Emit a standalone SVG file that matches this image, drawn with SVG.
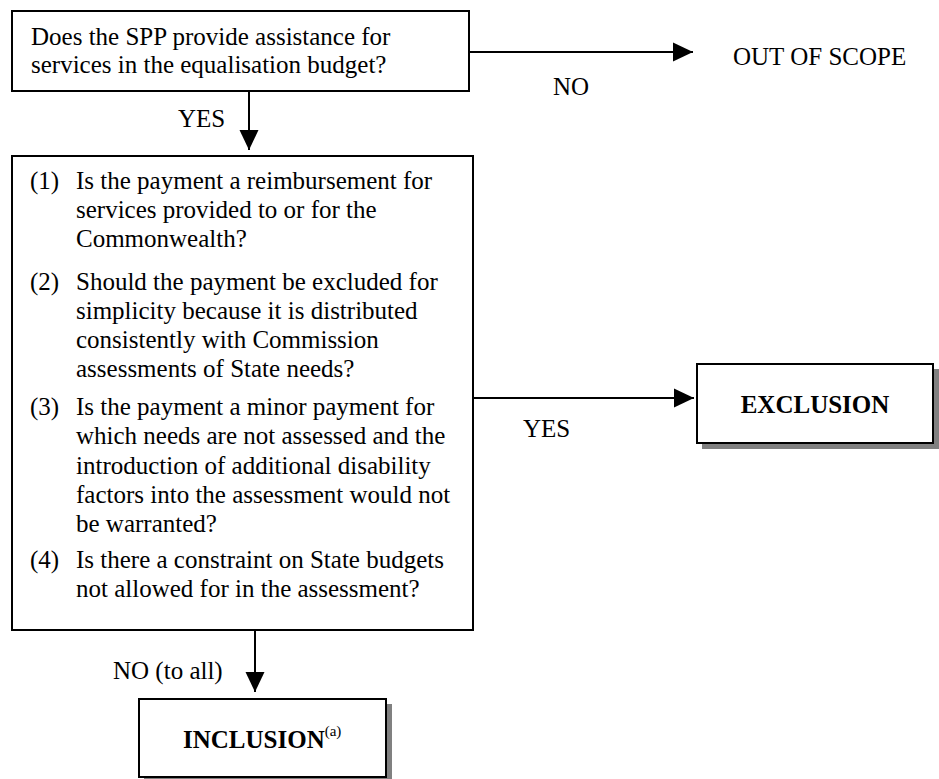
<svg xmlns="http://www.w3.org/2000/svg" width="939" height="779" viewBox="0 0 939 779">
<style>
.box{fill:#fff;stroke:#000;stroke-width:2}
.shadow{fill:#808080}
.t{font-family:"Liberation Serif","Times New Roman",serif;font-size:25px;fill:#000}
.b{font-weight:bold}
.ln{stroke:#000;stroke-width:2;fill:none}
</style>
<defs>
<marker id="ah" markerUnits="userSpaceOnUse" markerWidth="20" markerHeight="20" viewBox="0 0 20 20" refX="20" refY="10" orient="auto">
<path d="M0,0.5 L20,10 L0,19.5 Z" fill="#000"/>
</marker>
</defs>
<rect width="939" height="779" fill="#fff"/>
<g id="connectors">
<line class="ln" x1="470" y1="52" x2="693" y2="52" marker-end="url(#ah)"/>
<line class="ln" x1="249" y1="91" x2="249" y2="150" marker-end="url(#ah)"/>
<line class="ln" x1="473" y1="398" x2="694" y2="398" marker-end="url(#ah)"/>
<line class="ln" x1="255" y1="630" x2="255" y2="692" marker-end="url(#ah)"/>
<text class="t" x="553" y="95">NO</text>
<text class="t" x="178" y="127">YES</text>
<text class="t" x="523" y="437">YES</text>
<text class="t" x="113" y="679">NO (to all)</text>
</g>
<g id="q1">
<rect class="box" x="12" y="11" width="457" height="80"/>
<text class="t" x="31" y="45">Does the SPP provide assistance for</text>
<text class="t" x="31" y="73">services in the equalisation budget?</text>
</g>
<g id="out">
<text class="t" x="733" y="65">OUT OF SCOPE</text>
</g>
<g id="q2">
<rect class="box" x="12" y="156" width="461" height="474"/>
<text class="t" x="30" y="189">(1)</text>
<text class="t" x="76" y="189">Is the payment a reimbursement for</text>
<text class="t" x="76" y="218">services provided to or for the</text>
<text class="t" x="76" y="247">Commonwealth?</text>
<text class="t" x="30" y="290">(2)</text>
<text class="t" x="76" y="290">Should the payment be excluded for</text>
<text class="t" x="76" y="319">simplicity because it is distributed</text>
<text class="t" x="76" y="348">consistently with Commission</text>
<text class="t" x="76" y="377">assessments of State needs?</text>
<text class="t" x="30" y="415">(3)</text>
<text class="t" x="76" y="415">Is the payment a minor payment for</text>
<text class="t" x="76" y="444">which needs are not assessed and the</text>
<text class="t" x="76" y="474">introduction of additional disability</text>
<text class="t" x="76" y="503">factors into the assessment would not</text>
<text class="t" x="76" y="532">be warranted?</text>
<text class="t" x="30" y="568">(4)</text>
<text class="t" x="76" y="568">Is there a constraint on State budgets</text>
<text class="t" x="76" y="597">not allowed for in the assessment?</text>
</g>
<g id="exclusion">
<rect class="shadow" x="702" y="369" width="237" height="80"/>
<rect class="box" x="697" y="364" width="236" height="79"/>
<text class="t b" x="815" y="413" text-anchor="middle">EXCLUSION</text>
</g>
<g id="inclusion">
<rect class="shadow" x="144" y="704" width="248" height="80"/>
<rect class="box" x="139" y="699" width="247" height="78"/>
<text class="t b" x="183" y="748">INCLUSION<tspan font-size="15" font-weight="normal" dy="-12">(a)</tspan></text>
</g>
</svg>
